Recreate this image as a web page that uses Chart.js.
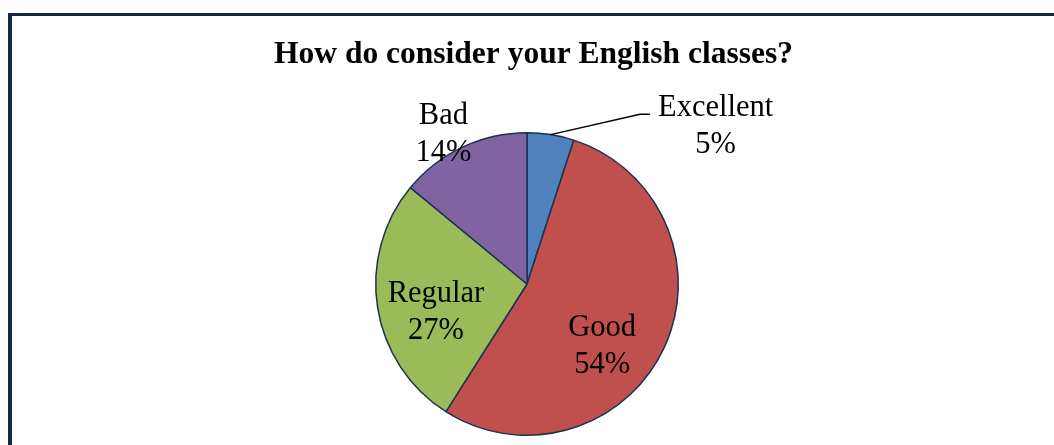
<!DOCTYPE html>
<html>
<head>
<meta charset="utf-8">
<script src="https://cdn.jsdelivr.net/npm/chart.js@4.4.0/dist/chart.umd.min.js"></script>
<style>
  html, body { margin: 0; padding: 0; background: #ffffff; }
  #wrap { position: relative; width: 1054px; height: 445px; overflow: hidden; }
  #frame { position: absolute; left: 8px; top: 13px; width: 1100px; height: 500px;
           border-left: 4px solid #17283f; border-top: 3px solid #17283f; box-sizing: border-box; }
  #c { position: absolute; left: 0; top: 0; }
</style>
</head>
<body>
<div id="wrap">
  <div id="frame"></div>
  <canvas id="c" width="1054" height="445"></canvas>
</div>
<script>
const titleText = 'How do consider your English classes?';
const categories = ['Excellent', 'Good', 'Regular', 'Bad'];
const values = [5, 54, 27, 14];
const percentLabels = ['5%', '54%', '27%', '14%'];
const sliceColors = ['#4F81BD', '#C0504D', '#9BBB59', '#8064A2'];

// label placement relative to pie center, in units of the pie radius (first-line baseline)
const labelPlacement = [
  { dx: 1.247, dy: -1.112, leader: true },
  { dx: 0.497, dy: 0.342 },
  { dx: -0.602, dy: 0.116 },
  { dx: -0.553, dy: -1.057 }
];

const serif = '"Liberation Serif", "Times New Roman", serif';

// the title sits inside the framed area, which starts a little right of the canvas edge
const titleShift = {
  id: 'titleShift',
  afterLayout(chart) {
    const t = chart.titleBlock;
    if (t) { t.left += 13; t.width = t.right - t.left; }
  }
};

const labelPlugin = {
  id: 'sliceLabels',
  afterDatasetsDraw(chart) {
    const ctx = chart.ctx;
    const meta = chart.getDatasetMeta(0);
    ctx.save();
    ctx.font = '30.5px ' + serif;
    ctx.fillStyle = '#000000';
    ctx.textAlign = 'center';
    ctx.textBaseline = 'alphabetic';
    meta.data.forEach((arc, i) => {
      const p = labelPlacement[i];
      const r = arc.outerRadius;
      const cx = arc.x, cy = arc.y;
      const x = cx + p.dx * r;
      const y = cy + p.dy * r;
      if (p.leader) {
        const mid = (arc.startAngle + arc.endAngle) / 2;
        const sx = cx + Math.cos(mid) * r;
        const sy = cy + Math.sin(mid) * r;
        const ex = cx + 0.747 * r, ey = cy - 1.123 * r;
        const fx = cx + 0.813 * r;
        ctx.beginPath();
        ctx.strokeStyle = '#000000';
        ctx.lineWidth = 1.5;
        ctx.moveTo(sx, sy);
        ctx.lineTo(ex, ey);
        ctx.lineTo(fx, ey);
        ctx.stroke();
      }
      ctx.fillText(categories[i], x, y);
      ctx.fillText(percentLabels[i], x, y + 37);
    });
    ctx.restore();
  }
};

new Chart(document.getElementById('c'), {
  type: 'pie',
  data: {
    labels: categories,
    datasets: [{
      data: values,
      backgroundColor: sliceColors,
      borderColor: '#1b3350',
      borderWidth: 1.5,
      hoverOffset: 0
    }]
  },
  options: {
    responsive: false,
    animation: false,
    events: [],
    layout: { padding: { top: 24, bottom: 9, left: 0, right: 0 } },
    plugins: {
      legend: { display: false },
      tooltip: { enabled: false },
      title: {
        display: true,
        text: titleText,
        color: '#000000',
        font: { family: serif, size: 31.5, weight: 'bold', lineHeight: 1.2 },
        padding: { top: 12, bottom: 58.2 }
      }
    }
  },
  plugins: [titleShift, labelPlugin]
});
</script>
</body>
</html>
